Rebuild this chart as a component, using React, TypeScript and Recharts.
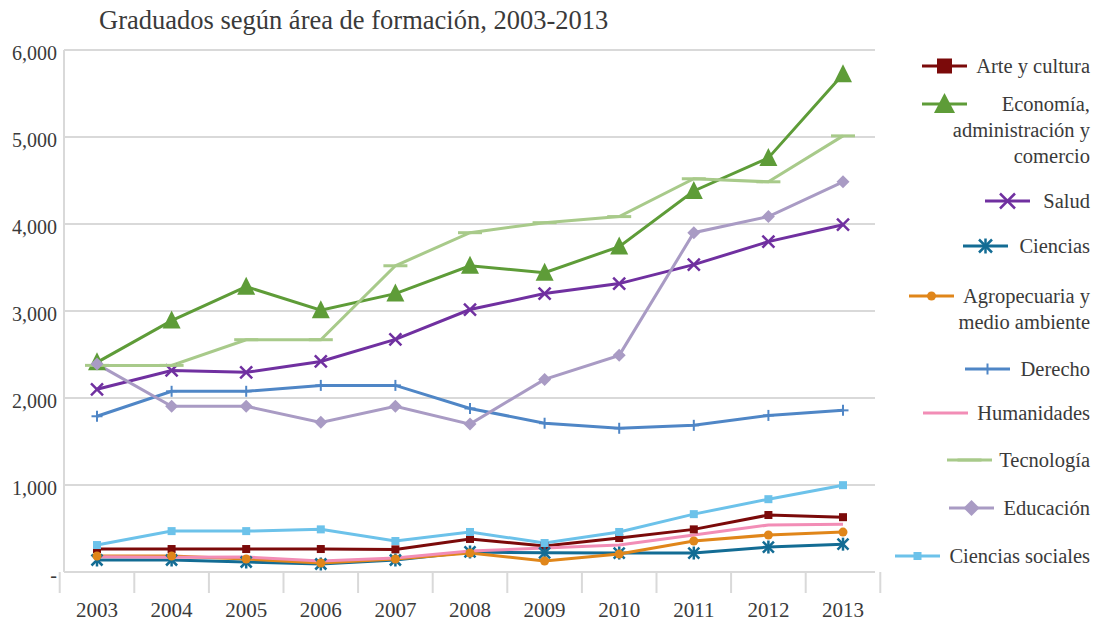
import React from 'react';
import { LineChart, Line, XAxis, YAxis, CartesianGrid } from 'recharts';

// Graduados según área de formación, 2003-2013

const years = ['2003', '2004', '2005', '2006', '2007', '2008', '2009', '2010', '2011', '2012', '2013'];

const arteCultura = [264, 264, 264, 264, 260, 380, 300, 390, 490, 655, 630];
const economia = [2410, 2890, 3280, 3010, 3200, 3520, 3440, 3740, 4380, 4760, 5720];
const salud = [2100, 2317, 2295, 2420, 2673, 3017, 3200, 3315, 3533, 3797, 3992];
const ciencias = [138, 138, 115, 92, 138, 230, 220, 218, 218, 287, 320];
const agropecuaria = [184, 184, 150, 103, 150, 218, 126, 206, 356, 425, 459];
const derecho = [1790, 2077, 2077, 2145, 2145, 1880, 1710, 1652, 1686, 1800, 1858];
const humanidades = [175, 170, 172, 126, 160, 240, 275, 310, 425, 540, 550];
const tecnologia = [2375, 2375, 2670, 2670, 3520, 3900, 4015, 4085, 4520, 4485, 5013];
const educacion = [2390, 1905, 1905, 1720, 1905, 1700, 2214, 2490, 3900, 4085, 4485];
const cienciasSociales = [310, 470, 470, 490, 356, 460, 333, 460, 665, 837, 998];

const yTicks = [0, 1000, 2000, 3000, 4000, 5000, 6000];

// gap = espacio sobre cada entrada de la leyenda, iconGap = separación icono/texto
const series = [
  { key: 'arte', name: 'Arte y cultura', lines: ['Arte y cultura'], values: arteCultura, color: '#7B0A0A', marker: 'square', gap: 0, iconGap: 8 },
  { key: 'eco', name: 'Economía, administración y comercio', lines: ['Economía,', 'administración y', 'comercio'], values: economia, color: '#5E9C38', marker: 'triangle', gap: 12, iconGap: 34 },
  { key: 'salud', name: 'Salud', lines: ['Salud'], values: salud, color: '#7030A0', marker: 'x', gap: 19, iconGap: 12 },
  { key: 'ciencias', name: 'Ciencias', lines: ['Ciencias'], values: ciencias, color: '#136C94', marker: 'star', gap: 19, iconGap: 10 },
  { key: 'agro', name: 'Agropecuaria y medio ambiente', lines: ['Agropecuaria y', 'medio ambiente'], values: agropecuaria, color: '#E0861A', marker: 'circle', gap: 24, iconGap: 8 },
  { key: 'derecho', name: 'Derecho', lines: ['Derecho'], values: derecho, color: '#4F86C6', marker: 'plus', gap: 21, iconGap: 10 },
  { key: 'human', name: 'Humanidades', lines: ['Humanidades'], values: humanidades, color: '#F28DB6', marker: 'none', gap: 18, iconGap: 8 },
  { key: 'tecno', name: 'Tecnología', lines: ['Tecnología'], values: tecnologia, color: '#A8CA8A', marker: 'dash', gap: 21, iconGap: 6 },
  { key: 'edu', name: 'Educación', lines: ['Educación'], values: educacion, color: '#A99BC4', marker: 'diamond', gap: 22, iconGap: 8 },
  { key: 'soc', name: 'Ciencias sociales', lines: ['Ciencias sociales'], values: cienciasSociales, color: '#6CC2EA', marker: 'smallSquare', gap: 22, iconGap: 8 },
];

const data = years.map((year, i) => {
  const row: Record<string, string | number> = { year };
  series.forEach((s) => {
    row[s.key] = s.values[i];
  });
  return row;
});

const FONT = '"Liberation Serif", serif';
const TEXT = '#3a3a3a';
const GRID = '#D9D9D9';
const BAND = 74.6;

function Marker({ type, cx, cy, color, big = false }: { type: string; cx: number; cy: number; color: string; big?: boolean }) {
  switch (type) {
    case 'square': {
      const s = big ? 15 : 8;
      return <rect x={cx - s / 2} y={cy - s / 2} width={s} height={s} fill={color} />;
    }
    case 'smallSquare': {
      const s = 8;
      return <rect x={cx - s / 2} y={cy - s / 2} width={s} height={s} fill={color} />;
    }
    case 'triangle': {
      const w = big ? 21 : 18;
      const h = big ? 18 : 16;
      return <polygon points={`${cx},${cy - h / 2 - 2} ${cx + w / 2},${cy + h / 2} ${cx - w / 2},${cy + h / 2}`} fill={color} />;
    }
    case 'x': {
      const r = big ? 7.5 : 6;
      return (
        <g stroke={color} strokeWidth={2.5}>
          <line x1={cx - r} y1={cy - r} x2={cx + r} y2={cy + r} />
          <line x1={cx - r} y1={cy + r} x2={cx + r} y2={cy - r} />
        </g>
      );
    }
    case 'star': {
      const r = big ? 6.5 : 5.5;
      return (
        <g stroke={color} strokeWidth={2.5}>
          <line x1={cx - r} y1={cy - r} x2={cx + r} y2={cy + r} />
          <line x1={cx - r} y1={cy + r} x2={cx + r} y2={cy - r} />
          <line x1={cx} y1={cy - r - 1} x2={cx} y2={cy + r + 1} />
        </g>
      );
    }
    case 'circle':
      return <circle cx={cx} cy={cy} r={4.5} fill={color} />;
    case 'plus':
      return (
        <g stroke={color} strokeWidth={2}>
          <line x1={cx} y1={cy - 5.5} x2={cx} y2={cy + 5.5} />
          <line x1={cx - 5.5} y1={cy} x2={cx + 5.5} y2={cy} />
        </g>
      );
    case 'dash':
      return <line x1={cx - 12} y1={cy} x2={cx + 12} y2={cy} stroke={color} strokeWidth={3} />;
    case 'diamond': {
      const r = big ? 8 : 6.5;
      return <polygon points={`${cx},${cy - r} ${cx + r},${cy} ${cx},${cy + r} ${cx - r},${cy}`} fill={color} />;
    }
    default:
      return <g />;
  }
}

const XTick = (props: any) => {
  const { x, y, payload, index } = props;
  return (
    <g>
      <line x1={x - BAND / 2} y1={y} x2={x - BAND / 2} y2={y + 21} stroke={GRID} strokeWidth={2} />
      {index === years.length - 1 && (
        <line x1={x + BAND / 2} y1={y} x2={x + BAND / 2} y2={y + 21} stroke={GRID} strokeWidth={2} />
      )}
      <text x={x} y={y + 45} textAnchor="middle" fill={TEXT} fontSize={21} fontFamily={FONT}>
        {payload.value}
      </text>
    </g>
  );
};

const YTick = (props: any) => {
  const { x, y, payload } = props;
  const v = payload.value as number;
  return (
    <text x={x} y={y + 10} textAnchor="end" fill={TEXT} fontSize={20} fontFamily={FONT}>
      {v === 0 ? '-' : v.toLocaleString('en-US')}
    </text>
  );
};

function LegendBlock() {
  return (
    <div
      style={{
        position: 'absolute',
        right: 9,
        top: 53,
        display: 'flex',
        flexDirection: 'column',
        alignItems: 'flex-end',
        fontFamily: FONT,
        fontSize: 20.5,
        lineHeight: '26px',
        color: TEXT,
      }}
    >
      {series.map((s) => (
        <div key={s.key} style={{ marginTop: s.gap, display: 'flex', flexDirection: 'column', alignItems: 'flex-end' }}>
          <div style={{ display: 'flex', alignItems: 'center' }}>
            <svg width={47} height={26} style={{ marginRight: s.iconGap }}>
              <line x1={1} y1={13} x2={46} y2={13} stroke={s.color} strokeWidth={3} />
              <Marker type={s.marker} cx={23.5} cy={13} color={s.color} big />
            </svg>
            <span style={{ whiteSpace: 'nowrap' }}>{s.lines[0]}</span>
          </div>
          {s.lines.slice(1).map((l) => (
            <div key={l} style={{ whiteSpace: 'nowrap' }}>
              {l}
            </div>
          ))}
        </div>
      ))}
    </div>
  );
}

export default function App() {
  return (
    <div style={{ position: 'absolute', left: 0, top: 0, width: 1099, height: 622, background: '#fff', fontFamily: FONT }}>
      <div style={{ position: 'absolute', left: 99, top: 5, fontSize: 26.5, color: TEXT, whiteSpace: 'nowrap', fontFamily: FONT }}>
        Graduados según área de formación, 2003-2013
      </div>
      <LineChart width={1099} height={622} data={data} margin={{ top: 50, right: 224, bottom: 0, left: 0 }}>
        <CartesianGrid vertical={false} stroke={GRID} strokeWidth={2} />
        <XAxis
          dataKey="year"
          height={50}
          padding={{ left: 33, right: 32 }}
          axisLine={{ stroke: GRID, strokeWidth: 2 }}
          tickLine={false}
          tickSize={0}
          tickMargin={0}
          interval={0}
          tick={(p: any) => <XTick {...p} />}
        />
        <YAxis
          width={64}
          domain={[0, 6000]}
          ticks={yTicks}
          axisLine={{ stroke: GRID, strokeWidth: 2 }}
          tickLine={false}
          tickSize={0}
          tickMargin={7}
          tick={(p: any) => <YTick {...p} />}
        />
        <YAxis
          yAxisId="right"
          orientation="right"
          width={0}
          domain={[0, 6000]}
          tick={false}
          tickLine={false}
          axisLine={{ stroke: GRID, strokeWidth: 2 }}
        />
        {series.map((s) => (
          <Line
            key={s.key}
            dataKey={s.key}
            name={s.name}
            stroke={s.color}
            strokeWidth={3}
            isAnimationActive={false}
            activeDot={false}
            dot={(p: any) => <Marker key={`${s.key}-${p.index}`} type={s.marker} cx={p.cx} cy={p.cy} color={s.color} />}
          />
        ))}
      </LineChart>
      <LegendBlock />
    </div>
  );
}
